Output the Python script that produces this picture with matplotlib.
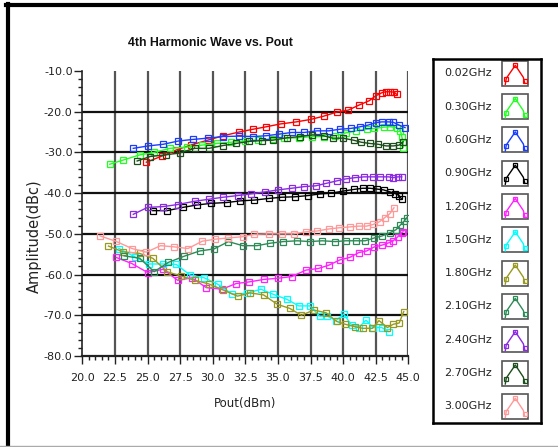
import matplotlib
matplotlib.use("Agg")
import matplotlib.pyplot as plt
from matplotlib.ticker import MultipleLocator, FormatStrFormatter
from matplotlib.lines import Line2D
from matplotlib.patches import Rectangle

# ---------------- data ----------------
labels = ["0.02GHz", "0.30GHz", "0.60GHz", "0.90GHz", "1.20GHz", "1.50GHz",
          "1.80GHz", "2.10GHz", "2.40GHz", "2.70GHz", "3.00GHz"]
colors = ["#ff0000", "#22ff22", "#1a3cff", "#000000", "#ff22ff", "#00ffff",
          "#999922", "#2e8b57", "#8a2be2", "#1e4d1e", "#ff9999"]

x_002 = [24.9, 26.1, 27.2, 28.3, 29.6, 30.8, 32.0, 33.1, 34.1, 35.2, 36.4, 37.5,
         38.5, 39.5, 40.4, 41.2, 42.0, 42.5, 43.0, 43.3, 43.6, 43.9, 44.1]
y_002 = [-32.4, -30.9, -29.4, -28.2, -27.0, -25.9, -25.0, -24.3, -23.7, -23.0, -22.5, -21.9,
         -21.1, -20.1, -19.6, -18.4, -17.3, -16.1, -15.3, -15.1, -15.1, -15.2, -15.7]

x_030 = [22.1, 23.1, 24.4, 25.5, 26.7, 28.0, 29.2, 30.3, 31.4, 32.5, 33.5, 34.6, 35.5, 36.6,
         37.6, 38.5, 39.4, 40.2, 41.0, 41.8, 42.4, 43.1, 43.6, 44.1, 44.4, 44.5, 44.6, 44.6]
y_030 = [-32.9, -31.9, -30.6, -30.0, -29.0, -28.7, -28.2, -27.8, -27.5, -27.2, -27.0, -26.7, -26.5, -26.4,
         -26.1, -26.1, -25.9, -25.2, -24.7, -24.3, -24.1, -23.8, -23.7, -23.9, -24.7, -26.1, -27.4, -28.8]

x_060 = [23.9, 25.05, 26.2, 27.35, 28.5, 29.6, 30.8, 32.0, 33.1, 34.1, 35.1, 36.05, 37.0,
         38.0, 38.9, 39.75, 40.6, 41.3, 41.9, 42.5, 42.95, 43.5, 43.85, 44.3, 44.75]
y_060 = [-29.0, -28.4, -28.0, -27.2, -26.8, -26.5, -26.1, -26.0, -26.1, -25.9, -25.5, -25.1, -25.1,
         -24.7, -24.7, -24.3, -24.1, -23.7, -23.3, -22.7, -22.5, -22.5, -22.6, -23.3, -23.9]

x_090 = [25.4, 26.5, 27.7, 28.8, 29.9, 31.1, 32.1, 33.2, 34.3, 35.3, 36.3, 37.3, 38.2, 39.1,
         40.0, 40.8, 41.5, 42.05, 42.6, 43.1, 43.6, 44.0, 44.3, 44.5]
y_090 = [-44.3, -44.3, -43.5, -42.9, -42.5, -42.3, -41.9, -41.7, -41.3, -41.0, -40.9, -40.6, -40.2, -40.0,
         -39.5, -39.1, -38.8, -38.8, -39.0, -39.2, -39.7, -40.1, -40.6, -41.5]

x_120 = [22.6, 23.8, 25.0, 26.2, 27.3, 28.4, 29.5, 30.7, 31.8, 32.8, 33.9, 35.0, 36.05, 37.15,
         38.1, 38.9, 39.75, 40.5, 41.2, 41.8, 42.4, 42.95, 43.5, 43.85, 44.2, 44.5, 44.6]
y_120 = [-55.8, -57.3, -59.5, -58.7, -61.4, -60.8, -63.2, -63.6, -62.2, -61.8, -61.2, -60.9, -60.5, -58.9,
         -58.5, -57.7, -56.4, -55.8, -54.6, -54.2, -53.2, -52.8, -52.2, -51.7, -50.7, -49.7, -49.5]

x_150 = [22.8, 24.0, 25.1, 26.2, 27.2, 28.25, 29.35, 30.4, 31.5, 32.6, 33.7, 34.6, 35.7, 36.6,
         37.45, 38.2, 38.8, 39.45, 40.05, 40.65, 41.2, 41.75, 42.3, 42.95, 43.5]
y_150 = [-53.6, -55.6, -57.4, -57.4, -57.5, -60.1, -60.8, -62.4, -64.8, -64.6, -63.6, -64.8, -66.1, -67.7,
         -67.7, -70.2, -70.2, -71.3, -69.7, -72.4, -73.0, -71.2, -73.0, -73.0, -74.0]

x_180 = [22.0, 23.1, 24.4, 25.4, 26.5, 27.6, 28.6, 29.7, 30.8, 31.9, 32.85, 33.9, 34.95, 35.9,
         36.8, 37.75, 38.7, 39.5, 40.15, 40.9, 41.5, 42.25, 42.75, 43.4, 43.85, 44.3, 44.65]
y_180 = [-53.0, -54.4, -54.8, -56.0, -59.3, -60.4, -61.4, -62.3, -63.8, -65.3, -64.5, -65.0, -67.3, -68.3,
         -70.0, -68.7, -69.4, -71.5, -72.2, -72.8, -73.2, -73.2, -71.3, -73.0, -72.2, -71.9, -69.1]

x_210 = [23.2, 24.4, 25.5, 26.6, 27.8, 29.0, 30.1, 31.2, 32.3, 33.4, 34.4, 35.4, 36.5, 37.45,
         38.4, 39.4, 40.2, 41.0, 41.7, 42.4, 43.0, 43.6, 44.05, 44.4, 44.7, 44.9]
y_210 = [-55.4, -56.0, -59.3, -57.0, -55.5, -54.2, -53.7, -51.9, -52.9, -52.9, -52.3, -51.9, -51.7, -51.9,
         -51.7, -51.9, -51.7, -51.7, -51.7, -51.0, -50.5, -49.7, -49.0, -47.8, -46.8, -46.0]

x_240 = [23.9, 25.0, 26.2, 27.3, 28.6, 29.7, 30.8, 31.9, 32.9, 34.0, 35.0, 36.05, 37.0, 37.9,
         38.7, 39.5, 40.2, 40.9, 41.6, 42.3, 42.8, 43.5, 43.85, 44.2, 44.5]
y_240 = [-45.2, -43.5, -43.3, -42.8, -42.0, -41.5, -41.0, -40.6, -40.2, -39.7, -39.2, -38.8, -38.4, -38.2,
         -37.6, -37.0, -36.5, -36.2, -36.0, -36.0, -36.0, -36.0, -36.2, -36.0, -36.0]

x_270 = [24.2, 25.2, 26.4, 27.5, 28.6, 29.7, 30.8, 31.8, 32.75, 33.75, 34.6, 35.7, 36.7, 37.6,
         38.5, 39.2, 40.0, 40.8, 41.4, 42.05, 42.7, 43.3, 43.85, 44.3, 44.6]
y_270 = [-32.1, -31.0, -30.6, -30.1, -29.0, -29.0, -28.3, -27.8, -27.3, -27.1, -27.0, -26.4, -26.1, -25.7,
         -25.9, -26.5, -26.5, -27.0, -27.5, -27.8, -28.0, -28.4, -28.4, -28.2, -27.4]

x_300 = [21.35, 22.55, 23.8, 24.9, 26.0, 27.05, 28.1, 29.2, 30.2, 31.2, 32.3, 33.2, 34.3, 35.3,
         36.2, 37.15, 38.0, 38.9, 39.7, 40.5, 41.2, 41.8, 42.3, 42.8, 43.2, 43.6, 43.9]
y_300 = [-50.5, -51.8, -53.6, -54.5, -52.9, -53.2, -53.6, -51.8, -51.3, -51.0, -50.7, -50.1, -50.0, -50.0,
         -50.0, -49.5, -49.3, -48.8, -48.5, -48.3, -48.1, -48.1, -47.7, -47.0, -46.0, -45.0, -43.6]

series_x = [x_002, x_030, x_060, x_090, x_120, x_150, x_180, x_210, x_240, x_270, x_300]
series_y = [y_002, y_030, y_060, y_090, y_120, y_150, y_180, y_210, y_240, y_270, y_300]

x_ticks = [20.0, 22.5, 25.0, 27.5, 30.0, 32.5, 35.0, 37.5, 40.0, 42.5, 45.0]
y_ticks = [-80.0, -70.0, -60.0, -50.0, -40.0, -30.0, -20.0, -10.0]

# ---------------- figure ----------------
W, H = 558, 447
fig = plt.figure(figsize=(W / 100, H / 100), dpi=100)
fig.patch.set_facecolor("white")

def fx(px):
    return px / W

def fy(py):
    return 1 - py / H

# outer frame
fig.add_artist(Line2D([fx(8), fx(8)], [fy(4), fy(446)], color="black", lw=3.0))
fig.add_artist(Line2D([fx(6), fx(W)], [fy(5), fy(5)], color="black", lw=3.0))
fig.add_artist(Line2D([fx(0), fx(W)], [fy(446), fy(446)], color="#aaaaaa", lw=1.0))

L, R, T, B = 82.4, 408.3, 71, 356
ax = fig.add_axes([fx(L), fy(B), (R - L) / W, (B - T) / H])
ax.set_xlim(20, 45)
ax.set_ylim(-80, -10)

for sx, sy, c in zip(series_x, series_y, colors):
    ax.plot(sx, sy, color=c, lw=1.0, marker="s", ms=4.3, mfc="none", mec=c, mew=0.9, zorder=3)

# grid
for xv in x_ticks[1:]:
    ax.axvline(xv, color="#555555", lw=1.6, zorder=1)
for yv in y_ticks[1:-1]:
    ax.axhline(yv, color="#111111", lw=1.6, zorder=1)

for s in ["top", "right"]:
    ax.spines[s].set_visible(False)
ax.spines["left"].set_color("#222222")
ax.spines["bottom"].set_color("#222222")
ax.spines["left"].set_linewidth(1.2)
ax.spines["bottom"].set_linewidth(1.6)

ax.set_xticks(x_ticks)
ax.set_yticks(y_ticks)
ax.xaxis.set_minor_locator(MultipleLocator(0.5))
ax.yaxis.set_minor_locator(MultipleLocator(2))
ax.xaxis.set_major_formatter(FormatStrFormatter("%.1f"))
ax.yaxis.set_major_formatter(FormatStrFormatter("%.1f"))
ax.tick_params(axis="both", which="major", direction="out", length=6, width=1,
               color="#222222", labelsize=8, labelcolor="#222222")
ax.tick_params(axis="both", which="minor", direction="out", length=3, width=1, color="#222222")
ax.tick_params(axis="x", which="major", pad=6)
ax.tick_params(axis="y", which="major", pad=1)

fig.text(fx(210), fy(43), "4th Harmonic Wave vs. Pout", ha="center", va="center",
         fontsize=8.8, fontweight="bold", family=["Liberation Sans", "DejaVu Sans"],
         color="#111111")
fig.text(fx(245), fy(404), "Pout(dBm)", ha="center", va="center", fontsize=8.5, color="#222222")
fig.text(fx(34), fy(236), "Amplitude(dBc)", ha="center", va="center", rotation=90,
         fontsize=10.5, color="#222222")

# ---------------- legend ----------------
lx0, ly0, lx1, ly1 = 433, 59, 541, 423
lax = fig.add_axes([fx(lx0), fy(ly1), (lx1 - lx0) / W, (ly1 - ly0) / H])
lax.set_xlim(0, lx1 - lx0)
lax.set_ylim(ly1 - ly0, 0)
lax.set_xticks([])
lax.set_yticks([])
for s in lax.spines.values():
    s.set_linewidth(1.8)
    s.set_color("black")

for i, (lab, c) in enumerate(zip(labels, colors)):
    cy = 14.3 + 33.3 * i
    lax.text(59, cy, lab, ha="right", va="center", fontsize=8, color="#222222")
    bx0, bx1 = 69.3, 95.3
    lax.add_patch(Rectangle((bx0, cy - 12.5), bx1 - bx0, 25, fill=False,
                            edgecolor="#555555", lw=1.2))
    px = [bx0 + 3, bx0 + 4, bx0 + 13, bx0 + 21, bx0 + 22.5]
    py = [cy + 11, cy + 5, cy - 8, cy + 4, cy + 10]
    lax.plot(px, py, color=c, lw=1.0)
    lax.plot([px[1], px[2], px[4]], [py[1] + 1, py[2], py[4] - 2], ls="none", marker="s",
             ms=3.2, mfc="none", mec=c, mew=0.9)

fig.savefig("out.png", dpi=100, facecolor="white")
